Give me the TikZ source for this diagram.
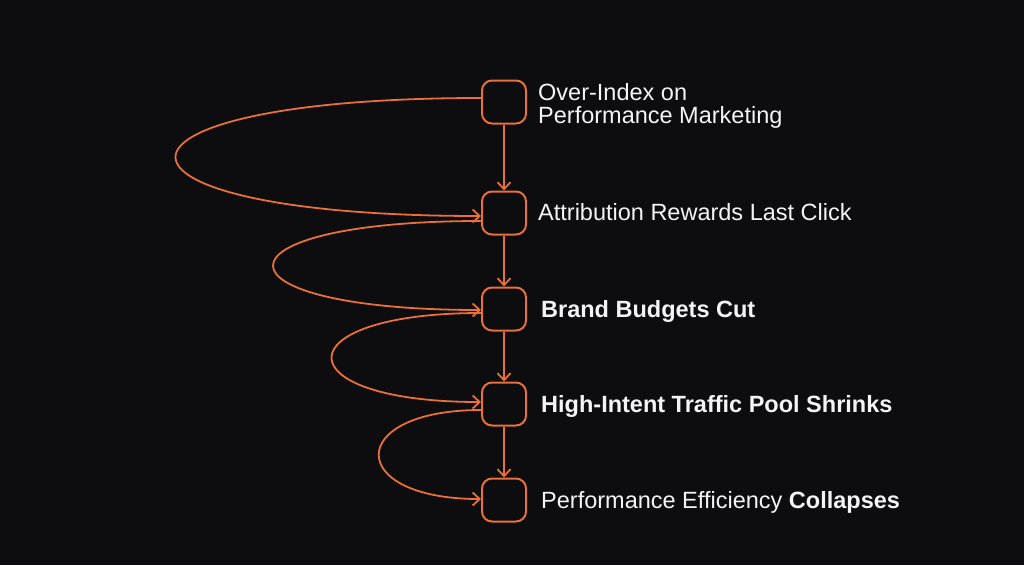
\documentclass[tikz,border=0pt]{standalone}
\usepackage{fontspec}
\setmainfont{Liberation Sans}
\usetikzlibrary{arrows.meta}
\definecolor{bg}{HTML}{0D0D0F}
\definecolor{org}{HTML}{E8703A}
\definecolor{txt}{HTML}{F4F4F4}
\begin{document}
\begin{tikzpicture}[x=1pt,y=-1pt,
  box/.style={draw=org, line width=2pt, rounded corners=10pt, minimum width=44pt, minimum height=43pt, inner sep=0pt},
  lbl/.style={text=txt, anchor=base west, inner sep=0pt, font=\fontsize{23.5}{23}\selectfont},
  conn/.style={draw=org, line width=1.8pt, -{Straight Barb[length=7pt,width=13pt,line width=1.8pt]}}
]
\fill[bg] (0,0) rectangle (1024,565);
\useasboundingbox (0,0) rectangle (1024,565);

\node[box] (b1) at (504,102) {};
\node[box] (b2) at (504,213) {};
\node[box] (b3) at (504,309) {};
\node[box] (b4) at (504,404) {};
\node[box] (b5) at (504,500) {};

\node[lbl, anchor=west, align=left] (t1) at (538,106) {Over-Index on\\Performance Marketing};
\node[lbl] (t2) at (538,220) {Attribution Rewards Last Click};
\node[lbl] (t3) at (541,317) {\bfseries Brand Budgets Cut};
\node[lbl] (t4) at (541,412) {\bfseries High-Intent Traffic Pool Shrinks};
\node[lbl] (t5) at (541,508) {Performance Efficiency \textbf{Collapses}};

\draw[conn] (b1) -- (b2);
\draw[conn] (b2) -- (b3);
\draw[conn] (b3) -- (b4);
\draw[conn] (b4) -- (b5);

\draw[conn] ([yshift=4pt]b1.west) .. controls +(-407,0) and +(-407,0) .. ([yshift=-3pt]b2.west);
\draw[conn] ([yshift=-8pt]b2.west) .. controls +(-277,0) and +(-277,0) .. ([yshift=-1pt]b3.west);
\draw[conn] ([yshift=-4pt]b3.west) .. controls +(-199,0) and +(-199,0) .. ([yshift=2pt]b4.west);
\draw[conn] ([yshift=-6pt]b4.west) .. controls +(-136,0) and +(-136,0) .. ([yshift=1pt]b5.west);
\end{tikzpicture}
\end{document}
